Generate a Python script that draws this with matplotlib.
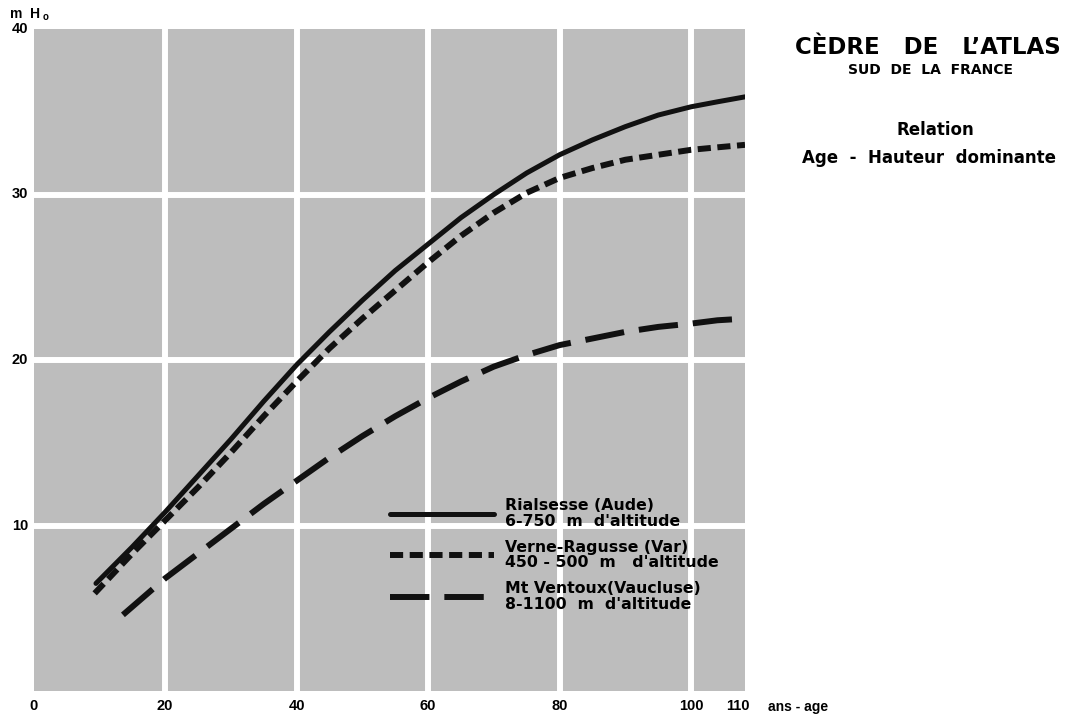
import matplotlib
matplotlib.use("Agg")
import matplotlib.pyplot as plt

# ---- data ----
age_rialsesse = [9.5, 15, 20, 25, 30, 35, 40, 45, 50, 55, 60, 65, 70, 75, 80, 85, 90, 95, 100, 104, 108.2]
h_rialsesse = [6.5, 8.7, 10.8, 13.0, 15.2, 17.5, 19.7, 21.7, 23.6, 25.4, 27.0, 28.6, 30.0, 31.3, 32.4,
               33.3, 34.1, 34.8, 35.3, 35.6, 35.9]

age_verne = [9.3, 15, 20, 25, 30, 35, 40, 45, 50, 55, 60, 65, 70, 75, 80, 85, 90, 95, 100, 104, 108.2]
h_verne = [5.9, 8.3, 10.3, 12.3, 14.4, 16.6, 18.7, 20.7, 22.5, 24.2, 25.9, 27.5, 28.9, 30.1, 31.0,
           31.6, 32.1, 32.4, 32.7, 32.85, 33.0]

age_ventoux = [13.6, 20, 25, 30, 35, 40, 45, 50, 55, 60, 65, 70, 75, 80, 85, 90, 95, 100, 104, 108.2]
h_ventoux = [4.6, 6.8, 8.3, 9.8, 11.3, 12.7, 14.1, 15.4, 16.6, 17.7, 18.7, 19.6, 20.3, 20.9,
             21.3, 21.7, 22.0, 22.2, 22.4, 22.5]

label_rialsesse = "Rialsesse (Aude)\n6-750  m  d'altitude"
label_verne = "Verne-Ragusse (Var)\n450 - 500  m   d'altitude"
label_ventoux = "Mt Ventoux(Vaucluse)\n8-1100  m  d'altitude"

x_ticks = [0, 20, 40, 60, 80, 100]
x_tick_labels = ["0", "20", "40", "60", "80", "100"]
y_ticks = [10, 20, 30, 40]
y_tick_labels = ["10", "20", "30", "40"]

plt.rcParams["font.family"] = ["Liberation Sans", "DejaVu Sans"]
WIDE = ["DejaVu Sans"]

W, H = 1068, 714
fig = plt.figure(figsize=(W / 100, H / 100), dpi=100)
fig.patch.set_facecolor("white")

left, right, top, bottom = 33.5, 745, 29, 691
ax = fig.add_axes([left / W, 1 - bottom / H, (right - left) / W, (bottom - top) / H])
ax.set_facecolor("#bdbdbd")
ax.set_xlim(0, 108.2)
ax.set_ylim(0, 40)
for s in ax.spines.values():
    s.set_visible(False)

ax.set_xticks([20, 40, 60, 80, 100])
ax.set_yticks([10, 20, 30])
ax.grid(True, color="white", linewidth=4.3)
ax.set_axisbelow(True)
ax.tick_params(length=0, labelbottom=False, labelleft=False)

# tick labels
for xv, lab in zip(x_ticks, x_tick_labels):
    ax.annotate(lab, xy=(xv, 0), xycoords=("data", "axes fraction"),
                xytext=(0, -6), textcoords="offset points",
                ha="center", va="top", fontsize=10.5, fontweight="bold")
for yv, lab in zip(y_ticks, y_tick_labels):
    ax.annotate(lab, xy=(0, yv), xycoords=("axes fraction", "data"),
                xytext=(-4, 0), textcoords="offset points",
                ha="right", va="center", fontsize=10.5, fontweight="bold")
ax.text(0.973, -0.012, "110", transform=ax.transAxes, ha="left", va="top",
        fontsize=10.5, fontweight="bold")
ax.text(1.032, -0.014, "ans - age", transform=ax.transAxes, ha="left", va="top",
        fontsize=10, fontweight="bold")

fig.text(10 / W, 1 - 14 / H, "m  H", ha="left", va="center", fontsize=10, fontweight="bold")
fig.text(43 / W, 1 - 17 / H, "o", ha="left", va="center", fontsize=7, fontweight="bold")

# curves
c = "#111111"
ax.plot(age_rialsesse, h_rialsesse, color=c, lw=3.6, solid_capstyle="round",
        solid_joinstyle="round", label=label_rialsesse)
ax.plot(age_verne, h_verne, color=c, lw=4.3, linestyle=(0, (2.2, 1.1)),
        dash_capstyle="butt", dash_joinstyle="round", label=label_verne)
ax.plot(age_ventoux, h_ventoux, color=c, lw=4.3, linestyle=(0, (6.6, 2.5)),
        dash_capstyle="butt", dash_joinstyle="round", label=label_ventoux)

leg = ax.legend(loc="upper left", bbox_to_anchor=(390 / W, 1 - 498 / H),
                bbox_transform=fig.transFigure, frameon=False,
                prop={"weight": "bold", "size": 11.3, "family": WIDE},
                handlelength=6.6, handletextpad=0.75, labelspacing=0.7,
                borderpad=0, borderaxespad=0)
for t in leg.get_texts():
    t.set_linespacing(1.05)

# titles
fig.text(928 / W, 1 - 47 / H, "CÈDRE   DE   L’ATLAS", ha="center", va="center",
         fontsize=16.5, fontweight="bold", family=WIDE)
fig.text(930 / W, 1 - 70 / H, "SUD  DE  LA  FRANCE", ha="center", va="center",
         fontsize=10, fontweight="bold", family=WIDE)
fig.text(935 / W, 1 - 130 / H, "Relation", ha="center", va="center",
         fontsize=12, fontweight="bold", family=WIDE)
fig.text(929 / W, 1 - 158 / H, "Age  -  Hauteur  dominante", ha="center", va="center",
         fontsize=12, fontweight="bold", family=WIDE)

fig.savefig("out.png", dpi=100)
